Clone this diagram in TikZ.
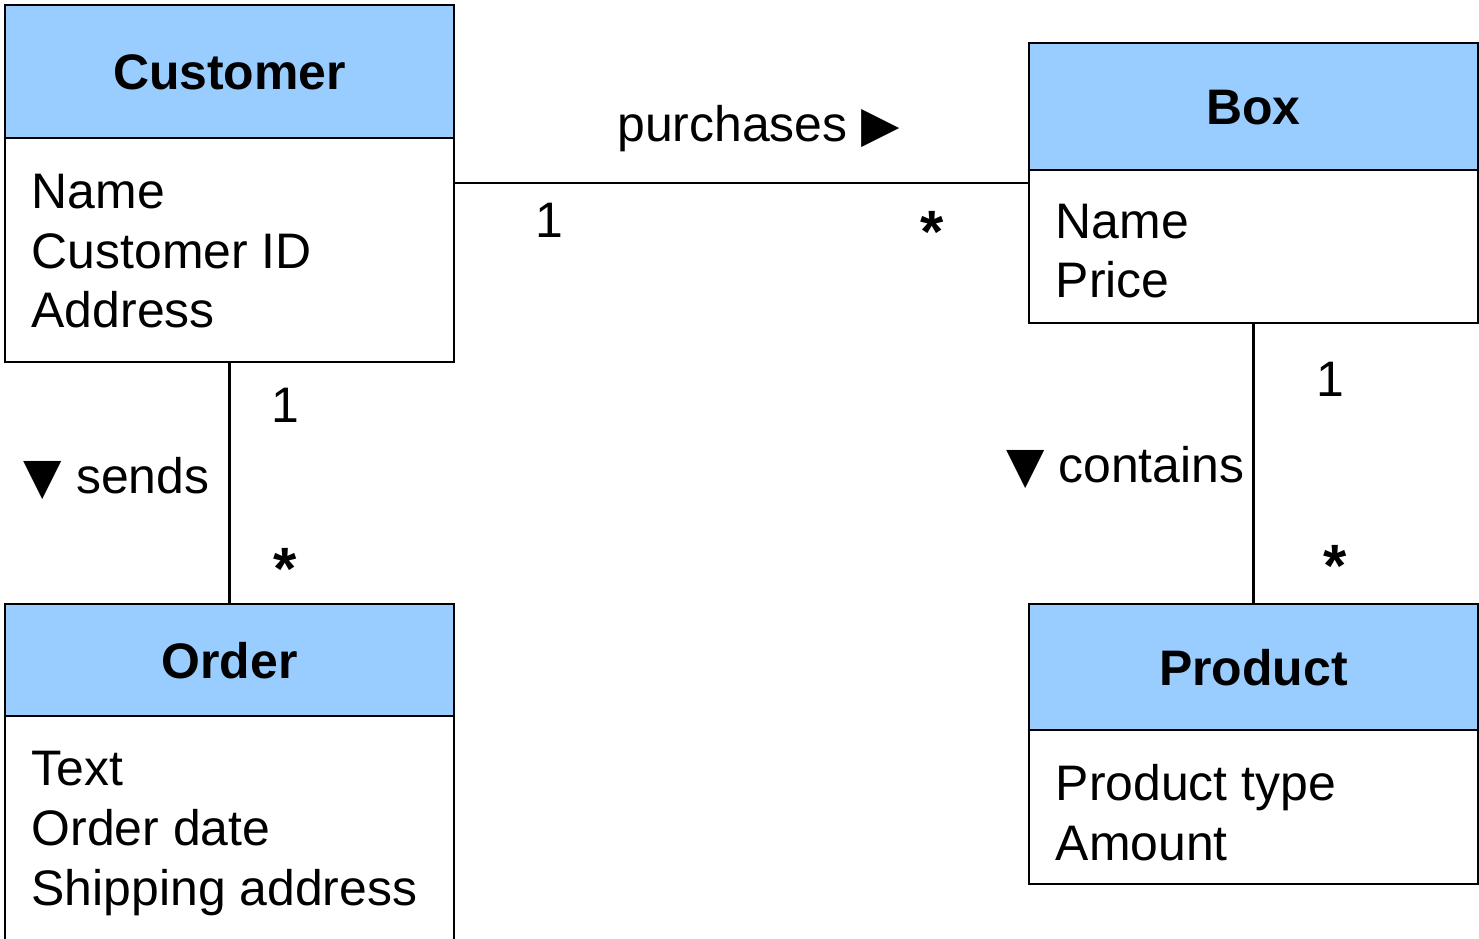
\documentclass[tikz,border=0pt]{standalone}
\usepackage{fontspec}
\setmainfont{Liberation Sans}
\newfontfamily\symfont{DejaVu Sans}
\usepackage{tikz}
\usetikzlibrary{positioning}
\definecolor{headblue}{HTML}{99CCFF}

\begin{document}
\begin{tikzpicture}[
	font=\fontsize{14.2}{17.07}\selectfont,
	classhead/.style={draw,fill=headblue,line width=0.6pt,inner sep=0pt,outer sep=0pt,minimum width=4.49cm,anchor=north west,font=\fontsize{14.2}{17.07}\selectfont\bfseries,text height=0.36cm,text depth=0pt},
	classbody/.style={draw,fill=white,line width=0.6pt,inner sep=0pt,outer sep=0pt,minimum width=4.49cm},
	attr/.style={anchor=base west,inner sep=0pt,align=left},
	mult/.style={anchor=base,inner sep=0pt},
	many/.style={anchor=base,inner sep=0pt,font=\fontsize{17}{20}\selectfont\bfseries},
	assoc/.style={anchor=base east,inner sep=0pt}
	]
	\useasboundingbox (0,0) rectangle (14.79,9.38);
	
	%classes
	\node[classhead,minimum height=1.33cm] (customer) at (0.05,9.33) {Customer};
	\node[classbody,minimum height=2.24cm,below=0pt of customer] (customerattr) {};
	%
	\node[classhead,minimum height=1.27cm] (box) at (10.29,8.95) {Box};
	\node[classbody,minimum height=1.53cm,below=0pt of box] (boxattr) {};
	%
	\node[classhead,minimum height=1.12cm] (order) at (0.05,3.34) {Order};
	\node[classbody,minimum height=2.40cm,below=0pt of order] (orderattr) {};
	%
	\node[classhead,minimum height=1.26cm] (product) at (10.29,3.34) {Product};
	\node[classbody,minimum height=1.54cm,below=0pt of product] (productattr) {};
	
	%attributes (base = baseline of the last line)
	\node[attr] (customerlist) at ([shift={(0.26,-1.90)}]customerattr.north west) {Name\\Customer ID\\Address};
	\node[attr] (boxlist)      at ([shift={(0.26,-1.28)}]boxattr.north west) {Name\\Price};
	\node[attr] (orderlist)    at ([shift={(0.26,-1.89)}]orderattr.north west) {Text\\Order date\\Shipping address};
	\node[attr] (productlist)  at ([shift={(0.26,-1.30)}]productattr.north west) {Product type\\Amount};
	
	%lines
	\draw[line width=0.6pt] (customerattr.east |- 0,7.55) -- (boxattr.west |- 0,7.55);
	\draw[line width=0.6pt] (customerattr.south) -- (order.north);
	\draw[line width=0.6pt] (boxattr.south) -- (product.north);
	
	%labels
	\node[mult] (purchlabel) at (7.585,7.96) {purchases {\symfont ▶}};
	\node[mult] (purchone)   at (5.49,7.00) {1};
	\node[many] (purchmany)  at (9.32,6.85) {*};
	%
	\node[assoc] (sendslabel) at (2.10,4.45) {{\symfont ▼} sends};
	\node[mult] (sendsone)    at (2.85,5.15) {1};
	\node[many] (sendsmany)   at (2.85,3.49) {*};
	%
	\node[assoc] (containslabel) at (12.45,4.55) {{\symfont ▼} contains};
	\node[mult] (containsone)    at (13.30,5.41) {1};
	\node[many] (containsmany)   at (13.35,3.52) {*};
\end{tikzpicture}
\end{document}
